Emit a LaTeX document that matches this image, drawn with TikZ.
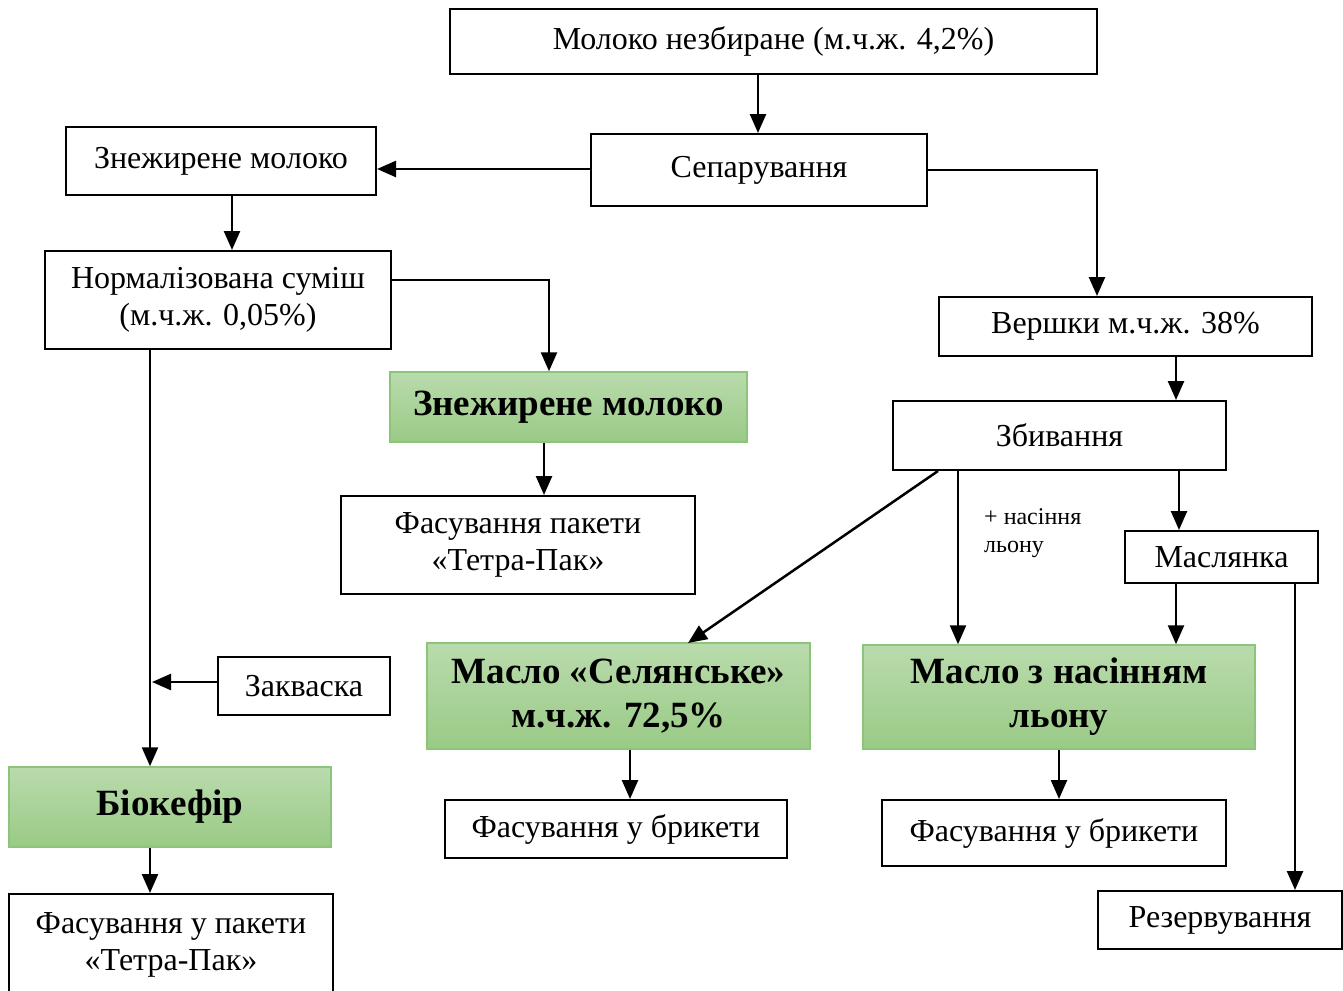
\documentclass[tikz,border=0pt]{standalone}
\usepackage{fontspec}
\setmainfont{Liberation Serif}
\usetikzlibrary{arrows.meta}
\definecolor{gtop}{HTML}{B9DBAC}
\definecolor{gbot}{HTML}{9ACA86}
\definecolor{gline}{HTML}{8CC47A}
\tikzset{
  box/.style={draw=black, line width=2pt, fill=white, inner sep=0pt, align=center,
    font=\fontsize{32}{37}\selectfont},
  gbox/.style={draw=gline, line width=1.5pt, top color=gtop, bottom color=gbot, inner sep=0pt, align=center,
    font=\fontsize{37}{44}\selectfont\bfseries},
  arr/.style={line width=2.5pt, -{Triangle[length=19pt,width=16pt]}},
  note/.style={font=\fontsize{24}{28}\selectfont, align=left, inner sep=0pt, anchor=north west}
}
\begin{document}
\begin{tikzpicture}[x=1pt,y=-1pt]
\clip (0,0) rectangle (1343,990);
\fill[white] (0,0) rectangle (1343,990);
\node[box, minimum width=647pt, minimum height=65pt] (milk) at (773.5,41.5) {Молоко незбиране (м.ч.ж. 4,2\%)};
\node[box, minimum width=336pt, minimum height=72pt] (sep) at (759,170) {Сепарування};
\node[box, minimum width=310pt, minimum height=68pt] (skim) at (221,161) {Знежирене молоко};
\node[box, minimum width=346pt, minimum height=98pt] (norm) at (218,300) {Нормалізована суміш\\(м.ч.ж. 0,05\%)};
\node[gbox, minimum width=357pt, minimum height=70pt] (gskim) at (568.5,407) {Знежирене молоко};
\node[box, minimum width=354pt, minimum height=98pt] (packtp) at (518,545) {Фасування пакети\\«Тетра-Пак»};
\node[box, minimum width=373pt, minimum height=59pt] (cream) at (1125.5,326.5) {Вершки м.ч.ж. 38\%};
\node[box, minimum width=333pt, minimum height=69pt] (churn) at (1059.5,435.5) {Збивання};
\node[box, minimum width=193pt, minimum height=52pt] (bmilk) at (1221.5,557) {Маслянка};
\node[gbox, minimum width=383pt, minimum height=106pt] (sel) at (618.5,696) {Масло «Селянське»\\м.ч.ж. 72,5\%};
\node[gbox, minimum width=392pt, minimum height=104pt] (flax) at (1059,697) {Масло з насінням\\льону};
\node[box, minimum width=342pt, minimum height=58pt] (brick1) at (616,829) {Фасування у брикети};
\node[box, minimum width=344pt, minimum height=66pt] (brick2) at (1054,833) {Фасування у брикети};
\node[box, minimum width=244pt, minimum height=58pt] (res) at (1220,920) {Резервування};
\node[box, minimum width=172pt, minimum height=58pt] (zak) at (304,686) {Закваска};
\node[gbox, minimum width=322pt, minimum height=80pt] (kef) at (170,807) {Біокефір};
\node[box, minimum width=324pt, minimum height=102pt] (packk) at (171,945) {Фасування у пакети\\«Тетра-Пак»};
% connectors
\draw[arr] (milk.south -| 758,0) -- (sep.north -| 758,0);
\draw[arr] (sep.west |- 0,169) -- (skim.east |- 0,169);
\draw[arr] (sep.east) -- (1097,170) -- (cream.north -| 1097,0);
\draw[arr] (skim.south -| 232,0) -- (norm.north -| 232,0);
\draw[arr] (norm.east |- 0,280) -- (549,280) -- (gskim.north -| 549,0);
\draw[arr] (gskim.south -| 544,0) -- (packtp.north -| 544,0);
\draw[arr] (norm.south -| 150,0) -- (kef.north -| 150,0);
\coordinate (zakend) at (152,682);
\draw[arr] (zak.west |- zakend) -- (zakend);
\draw[arr] (kef.south -| 150,0) -- (packk.north -| 150,0);
\draw[arr] (cream.south -| 1176,0) -- (churn.north -| 1176,0);
\draw[arr] (churn.south -| 938,0) -- (688,643);
\draw[arr] (churn.south -| 958,0) -- (flax.north -| 958,0);
\draw[arr] (churn.south -| 1179,0) -- (bmilk.north -| 1179,0);
\draw[arr] (bmilk.south -| 1176,0) -- (flax.north -| 1176,0);
\draw[arr] (bmilk.south -| 1295,0) -- (res.north -| 1295,0);
\draw[arr] (sel.south -| 630,0) -- (brick1.north -| 630,0);
\draw[arr] (flax.south -| 1059,0) -- (brick2.north -| 1059,0);
\node[note] (lbl) at (984,508) {+ насіння\\льону};
\end{tikzpicture}
\end{document}
